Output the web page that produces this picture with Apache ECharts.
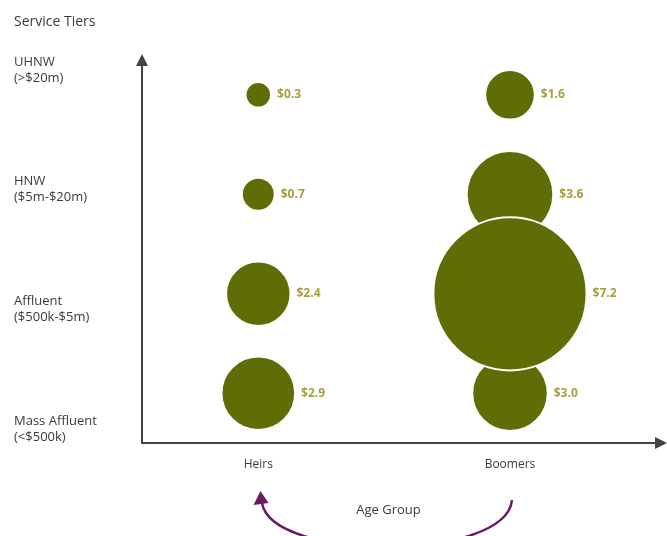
<!DOCTYPE html>
<html>
<head>
<meta charset="utf-8">
<script src="https://cdn.jsdelivr.net/npm/echarts@6/dist/echarts.min.js"></script>
<style>
html,body{margin:0;padding:0;background:#fff;}
#chart{width:667px;height:536px;}
</style>
</head>
<body>
<div id="chart"></div>
<script>
// ---- data ----
const ageGroups = ['Heirs', 'Boomers'];
// service tiers, bottom to top
const tierLabels = ['Mass Affluent\n(<$500k)', 'Affluent\n($500k-$5m)', 'HNW\n($5m-$20m)', 'UHNW\n(>$20m)'];
const heirsValues = [2.9, 2.4, 0.7, 0.3];
const boomersValues = [3.0, 7.2, 3.6, 1.6];
const chartTitle = 'Service Tiers';
const xAxisName = 'Age Group';

const FONT = '"Open Sans", sans-serif';
const bubbleColor = '#606c05';
const labelColor = '#a89e3e';
const textColor = '#3a3a3a';

const seriesValues = [heirsValues, boomersValues];
let points = [];
seriesValues.forEach((vals, gi) => {
  vals.forEach((v, ti) => points.push([gi + 1, ti + 1, v]));
});
// draw larger bubbles last so they sit on top
points.sort((a, b) => a[2] - b[2]);

const chart = echarts.init(document.getElementById('chart'), null, {renderer: 'canvas'});
chart.setOption({
  backgroundColor: '#ffffff',
  animation: false,
  title: {
    text: chartTitle, left: 9, top: 10,
    textStyle: {fontFamily: FONT, fontSize: 14, fontWeight: 'normal', color: textColor}
  },
  grid: [
    {left: 142, top: 60, right: 6, bottom: 93},
    {left: 0, top: 10, width: 12, height: 479}
  ],
  xAxis: [
    {
      type: 'value', gridIndex: 0, min: 0.538, max: 2.6,
      name: xAxisName, nameLocation: 'middle', nameGap: 61,
      nameTextStyle: {fontFamily: FONT, fontSize: 13, color: textColor, padding: [0, 26, 0, 0]},
      axisLine: {show: true, lineStyle: {color: '#444', width: 2}, symbol: ['none', 'triangle'], symbolSize: [12, 12]},
      axisTick: {show: false},
      splitLine: {show: false},
      axisLabel: {
        customValues: ageGroups.map((_, i) => i + 1),
        formatter: v => ageGroups[Math.round(v) - 1] || '',
        fontFamily: FONT, fontSize: 12, color: textColor, margin: 16
      }
    },
    {type: 'value', gridIndex: 1, show: false}
  ],
  yAxis: [
    {
      type: 'value', gridIndex: 0, min: 0.5, max: 4.35,
      axisLine: {show: true, lineStyle: {color: '#444', width: 2}, symbol: ['none', 'triangle'], symbolSize: [12, 12]},
      axisTick: {show: false},
      axisLabel: {show: false},
      splitLine: {show: false}
    },
    {
      type: 'category', gridIndex: 1, position: 'right', data: tierLabels,
      axisLine: {show: false}, axisTick: {show: false}, splitLine: {show: false},
      axisLabel: {fontFamily: FONT, fontSize: 13, color: textColor, lineHeight: 16, margin: 2, align: 'left'}
    }
  ],
  series: [{
    type: 'scatter',
    xAxisIndex: 0, yAxisIndex: 0,
    data: points,
    symbolSize: d => 20 + 18.5 * d[2],
    itemStyle: {color: bubbleColor, borderColor: '#ffffff', borderWidth: 2, opacity: 1},
    label: {
      show: true, position: 'right', distance: 5,
      formatter: p => '$' + p.value[2].toFixed(1),
      fontFamily: FONT, fontSize: 12, fontWeight: 'bold', color: labelColor
    },
    emphasis: {disabled: true}
  }],
  graphic: [
    {
      type: 'bezierCurve', silent: true,
      shape: {x1: 512, y1: 500, cpx1: 506, cpy1: 562, cpx2: 272, cpy2: 562, x2: 262, y2: 503},
      style: {stroke: '#6a1a5e', lineWidth: 2.5, fill: null}
    },
    {
      type: 'polygon', silent: true,
      shape: {points: [[260.5, 491], [253.5, 505], [268.5, 503]]},
      style: {fill: '#6a1a5e'}
    }
  ]
});
</script>
</body>
</html>
